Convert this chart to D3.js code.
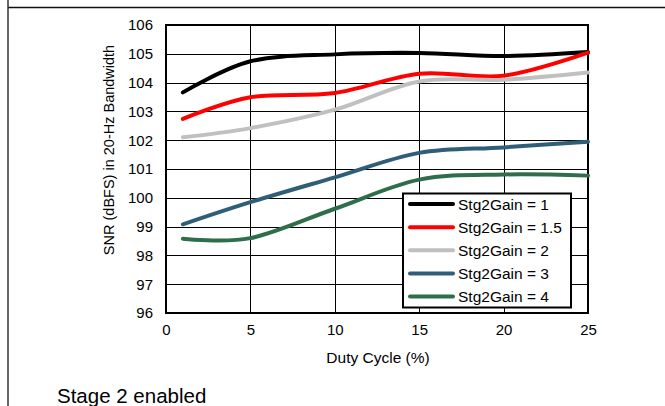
<!DOCTYPE html>
<html><head><meta charset="utf-8">
<script src="https://cdn.jsdelivr.net/npm/d3@7"></script>
<style>
html,body{margin:0;padding:0;background:#fff;}
svg text{font-family:"Liberation Sans",Arial,sans-serif;fill:#000;}
</style></head>
<body>
<script>
const dutyCycle = [1, 5, 10, 15, 20, 25];
const seriesNames = ["Stg2Gain = 1", "Stg2Gain = 1.5", "Stg2Gain = 2", "Stg2Gain = 3", "Stg2Gain = 4"];
const gain1   = [103.66, 104.74, 104.98, 105.03, 104.92, 105.06];
const gain1_5 = [102.74, 103.49, 103.64, 104.31, 104.24, 105.04];
const gain2   = [102.10, 102.42, 103.06, 104.04, 104.10, 104.35];
const gain3   = [99.08, 99.85, 100.71, 101.56, 101.75, 101.95];
const gain4   = [98.58, 98.60, 99.62, 100.63, 100.81, 100.77];
const seriesColors = ["#000000", "#ff0000", "#c0c0c0", "#2f5f78", "#2f6e4a"];
const xTicks = [0, 5, 10, 15, 20, 25];
const yTicks = [96, 97, 98, 99, 100, 101, 102, 103, 104, 105, 106];
const xTitle = "Duty Cycle (%)";
const yTitle = "SNR (dBFS) in 20-Hz Bandwidth";
const caption = "Stage 2 enabled";

const seriesValues = [gain1, gain1_5, gain2, gain3, gain4];

const W = 665, H = 406;
const svg = d3.select("body").append("svg").attr("width", W).attr("height", H);

const x = d3.scaleLinear().domain([0, 25]).range([166, 588]);
const y = d3.scaleLinear().domain([96, 106]).range([313, 25]);

// page frame lines
svg.append("line").attr("x1", 8).attr("x2", W).attr("y1", 7.5).attr("y2", 7.5)
  .attr("stroke", "#111").attr("stroke-width", 1.5);
svg.append("line").attr("x1", 8).attr("x2", 8).attr("y1", 0).attr("y2", H)
  .attr("stroke", "#333").attr("stroke-width", 1.5);

// gridlines
const grid = svg.append("g");
grid.selectAll(".hy").data(yTicks).enter().append("line")
  .attr("x1", x(0)).attr("x2", x(25))
  .attr("y1", d => Math.round(y(d)) + 0.5).attr("y2", d => Math.round(y(d)) + 0.5)
  .attr("stroke", "#000").attr("stroke-width", 1);
grid.selectAll(".vx").data(xTicks).enter().append("line")
  .attr("y1", y(106)).attr("y2", y(96))
  .attr("x1", d => Math.round(x(d)) + 0.5).attr("x2", d => Math.round(x(d)) + 0.5)
  .attr("stroke", "#000").attr("stroke-width", 1);

// axes (labels only)
const xAxis = d3.axisBottom(x).tickValues(xTicks).tickSize(0).tickPadding(11);
const gx = svg.append("g").attr("transform", `translate(0,${y(96)})`).call(xAxis);
gx.select(".domain").remove();
gx.selectAll("text").attr("font-size", 15).style("font-family", '"Liberation Sans",Arial,sans-serif');

const yAxis = d3.axisLeft(y).tickValues(yTicks).tickSize(0).tickPadding(13);
const gy = svg.append("g").attr("transform", `translate(${x(0)},0)`).call(yAxis);
gy.select(".domain").remove();
gy.selectAll("text").attr("font-size", 15).style("font-family", '"Liberation Sans",Arial,sans-serif');

// plot border
svg.append("rect").attr("x", x(0)).attr("y", y(106))
  .attr("width", x(25) - x(0)).attr("height", y(96) - y(106))
  .attr("fill", "none").attr("stroke", "#000").attr("stroke-width", 2);

// series lines
const line = d3.line().x(d => x(d[0])).y(d => y(d[1])).curve(d3.curveCardinal.tension(0));
seriesValues.forEach((vals, i) => {
  svg.append("path")
    .datum(dutyCycle.map((dc, j) => [dc, vals[j]]))
    .attr("d", line)
    .attr("fill", "none")
    .attr("stroke", seriesColors[i])
    .attr("stroke-width", 4)
    .attr("stroke-linecap", "round")
    .attr("stroke-linejoin", "round");
});

// legend
const lg = svg.append("g");
lg.append("rect").attr("x", 403).attr("y", 193.5).attr("width", 168).attr("height", 114)
  .attr("fill", "#fff").attr("stroke", "#000").attr("stroke-width", 2);
const rowY = d3.scalePoint().domain(seriesNames).range([204, 296.5]);
seriesNames.forEach((name, i) => {
  lg.append("line").attr("x1", 410).attr("x2", 453)
    .attr("y1", rowY(name)).attr("y2", rowY(name))
    .attr("stroke", seriesColors[i]).attr("stroke-width", 4).attr("stroke-linecap", "round");
  lg.append("text").attr("x", 458).attr("y", rowY(name)).attr("dy", "0.36em")
    .attr("font-size", 15.5).text(name);
});

// titles
svg.append("text").attr("x", (x(0) + x(25)) / 2 + 1).attr("y", 357).attr("dy", "0.36em")
  .attr("text-anchor", "middle").attr("font-size", 15.5).text(xTitle);
svg.append("text").attr("transform", `translate(114,150) rotate(-90)`)
  .attr("text-anchor", "middle").attr("font-size", 14.5).text(yTitle);
svg.append("text").attr("x", 57).attr("y", 396).attr("dy", "0.36em")
  .attr("font-size", 20.5).text(caption);
</script>
</body></html>
